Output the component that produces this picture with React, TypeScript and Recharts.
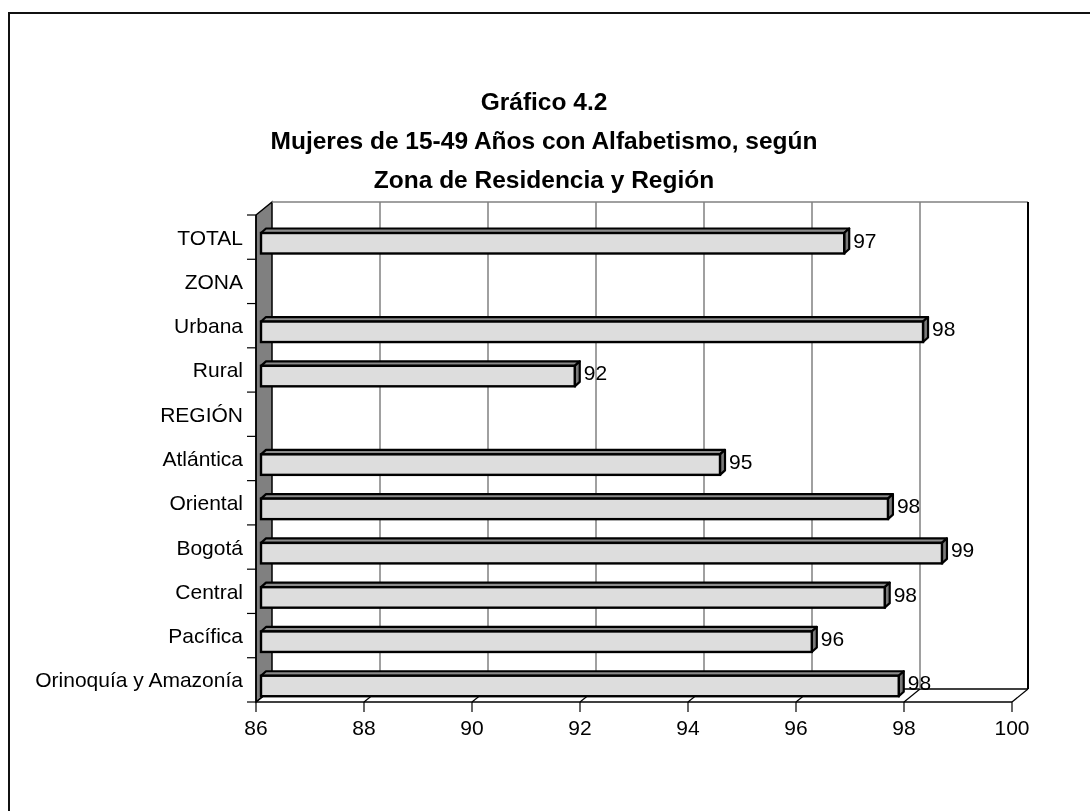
import { BarChart, Bar, XAxis, YAxis, CartesianGrid, LabelList } from 'recharts'

const categories = [
  'TOTAL',
  'ZONA',
  'Urbana',
  'Rural',
  'REGIÓN',
  'Atlántica',
  'Oriental',
  'Bogotá',
  'Central',
  'Pacífica',
  'Orinoquía y Amazonía',
]
const values = [96.8, null, 98.26, 91.81, null, 94.5, 97.61, 98.61, 97.55, 96.2, 97.81]
const xTicks = [86, 88, 90, 92, 94, 96, 98, 100]
const titleLines = [
  'Gráfico 4.2',
  'Mujeres de 15-49 Años con Alfabetismo, según',
  'Zona de Residencia y Región',
]

const data = categories.map((name, i) => ({ name, value: values[i] }))

const FONT = '"Liberation Sans", Arial, sans-serif'
// depth of the 3D box (walls) and of the bars
const DX = 16
const DY = -13
const BX = 5
const BY = -4.5

function GridLine(props: any) {
  const { x1, y1, y2, index, x, width } = props
  if (index >= xTicks.length) return <g key={props.key} />
  const first = index === 0
  const last = index === xTicks.length - 1
  return (
    <g key={props.key}>
      {first && (
        <polygon
          points={`${x1},${y1} ${x1 + DX},${y1 + DY} ${x1 + DX},${y2 + DY} ${x1},${y2}`}
          fill="#808080"
          stroke="#000"
          strokeWidth={1.5}
        />
      )}
      {first && width != null && (
        <>
          <line x1={x1 + DX} y1={y1 + DY} x2={x + width + DX} y2={y1 + DY} stroke="#808080" strokeWidth={1.5} />
          <line x1={x1 + DX} y1={y2 + DY} x2={x + width + DX} y2={y2 + DY} stroke="#000" strokeWidth={1.5} />
        </>
      )}
      {!first && (
        <line
          x1={x1 + DX}
          y1={y1 + DY}
          x2={x1 + DX}
          y2={y2 + DY}
          stroke={last ? '#000' : '#808080'}
          strokeWidth={last ? 2 : 1.5}
        />
      )}
      <line x1={x1} y1={y2} x2={x1 + DX} y2={y2 + DY} stroke="#000" strokeWidth={1.2} />
    </g>
  )
}

function Bar3D(props: any) {
  const { x, y, width, height, value } = props
  if (value == null || !width) return <g />
  const cy = y + height / 2
  const left = x + BX
  const right = x + width + BX
  const top = cy - 4
  const bottom = cy + 16.5
  return (
    <g>
      <polygon
        points={`${left},${top} ${left + BX},${top + BY} ${right + BX},${top + BY} ${right},${top}`}
        fill="#8c8c8c"
        stroke="#000"
        strokeWidth={2.2}
        strokeLinejoin="round"
      />
      <polygon
        points={`${right},${top} ${right + BX},${top + BY} ${right + BX},${bottom + BY} ${right},${bottom}`}
        fill="#7a7a7a"
        stroke="#000"
        strokeWidth={2.2}
        strokeLinejoin="round"
      />
      <rect x={left} y={top} width={right - left} height={bottom - top} fill="#dddddd" stroke="#000" strokeWidth={2.4} />
    </g>
  )
}

function ValueLabel(props: any) {
  const { x, y, width, height, value } = props
  if (value == null) return null
  const cy = y + height / 2
  return (
    <text x={x + width + 2 * BX + 4} y={cy + 3} dy="0.358em" fontSize={21} fontFamily={FONT} fill="#000">
      {Math.round(value)}
    </text>
  )
}

function CategoryTick(props: any) {
  const { x, y, payload, index } = props
  const axisX = x + 13
  const half = payload.offset ?? 22
  return (
    <g>
      <line x1={axisX - 9} y1={y - half} x2={axisX} y2={y - half} stroke="#000" strokeWidth={1.2} />
      {index === categories.length - 1 && (
        <line x1={axisX - 9} y1={y + half} x2={axisX} y2={y + half} stroke="#000" strokeWidth={1.2} />
      )}
      <text x={x} y={y} dy="0.358em" textAnchor="end" fontSize={21} fontFamily={FONT} fill="#000">
        {payload.value}
      </text>
    </g>
  )
}

export default function App() {
  return (
    <div>
      <div
        style={{
          position: 'fixed',
          left: 8,
          top: 12,
          width: 1100,
          height: 820,
          border: '2px solid #111',
          boxSizing: 'border-box',
        }}
      />
      <div style={{ position: 'fixed', left: 0, top: 0, width: 1090, height: 811 }}>
        <BarChart
          width={1090}
          height={811}
          data={data}
          layout="vertical"
          margin={{ top: 215, right: 78, bottom: 59, left: 0 }}
          barSize={24}
        >
          <CartesianGrid horizontal={false} vertical={GridLine} />
          <XAxis
            type="number"
            domain={[86, 100]}
            ticks={xTicks}
            interval={0}
            allowDataOverflow
            height={50}
            tickSize={10}
            tickMargin={8}
            axisLine={{ stroke: '#000', strokeWidth: 1.5 }}
            tickLine={{ stroke: '#000', strokeWidth: 1.2 }}
            tick={{ fill: '#000', fontSize: 21, fontFamily: FONT }}
          />
          <YAxis
            type="category"
            dataKey="name"
            width={256}
            interval={0}
            tickSize={9}
            tickMargin={4}
            tickLine={false}
            axisLine={{ stroke: '#000', strokeWidth: 1.5 }}
            tick={CategoryTick}
          />
          <Bar dataKey="value" shape={Bar3D} isAnimationActive={false}>
            <LabelList dataKey="value" content={ValueLabel} />
          </Bar>
        </BarChart>
      </div>
      <div
        style={{
          position: 'fixed',
          left: 0,
          top: 82,
          width: 1088,
          textAlign: 'center',
          fontFamily: FONT,
          fontWeight: 'bold',
          fontSize: 24.5,
          lineHeight: '39px',
        }}
      >
        {titleLines.map((t) => (
          <div key={t}>{t}</div>
        ))}
      </div>
    </div>
  )
}
